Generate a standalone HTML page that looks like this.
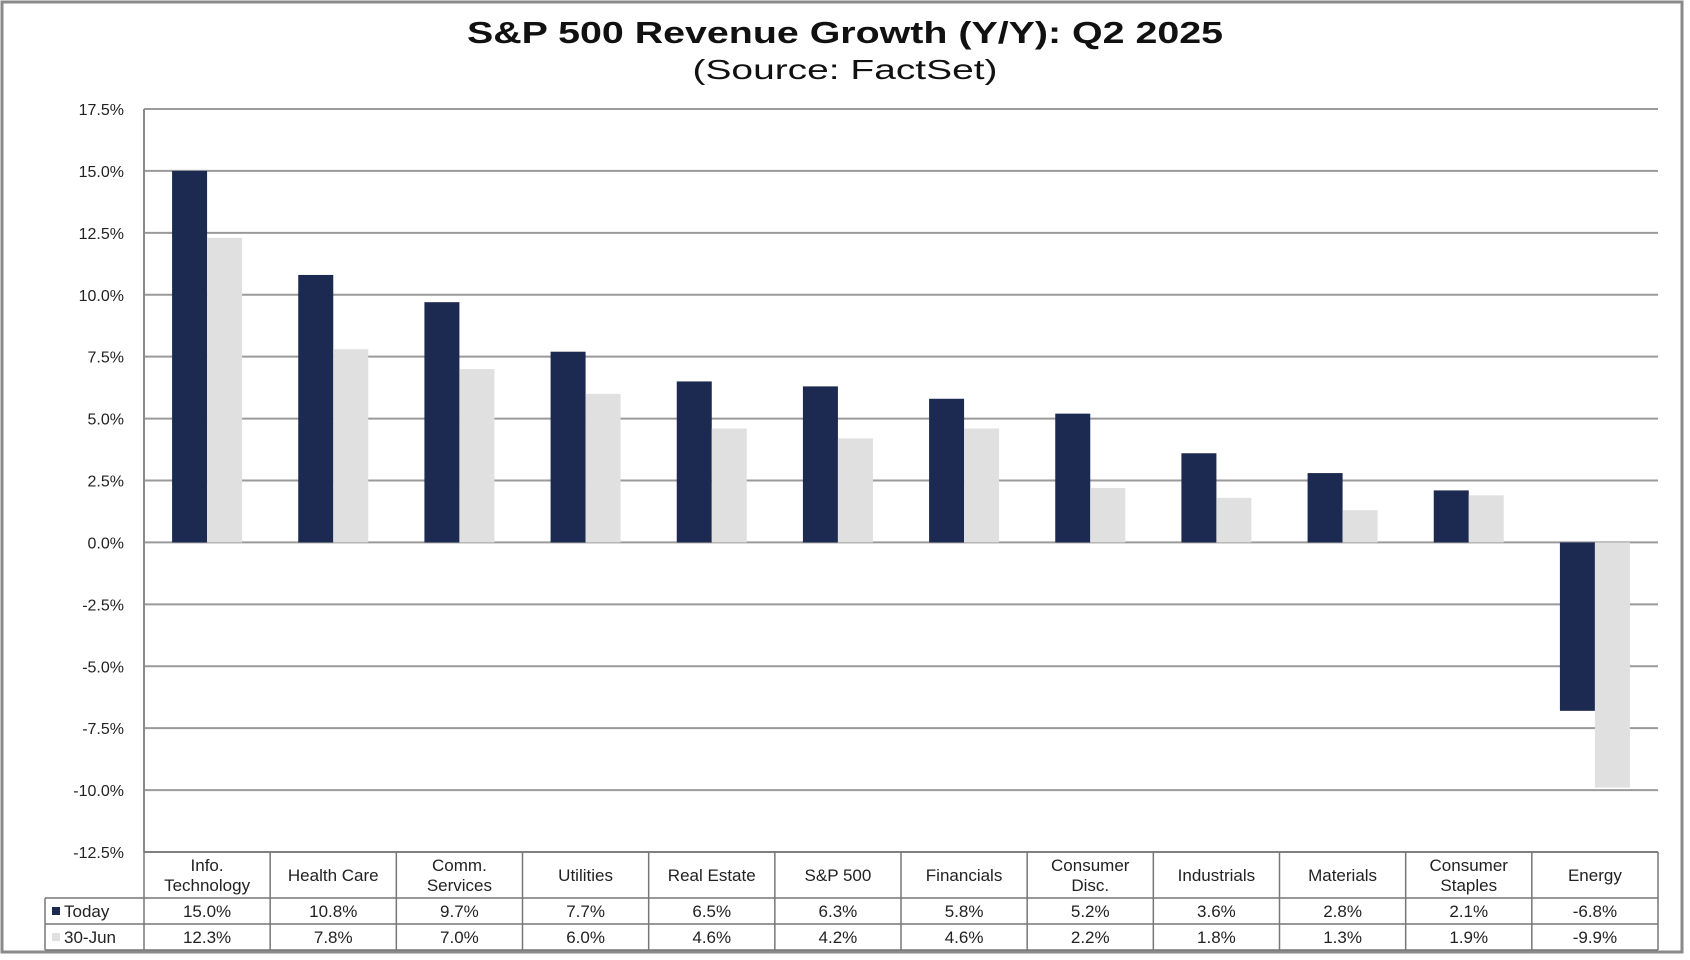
<!DOCTYPE html>
<html><head><meta charset="utf-8"><style>
html,body{margin:0;padding:0;background:#fff;}
svg{display:block;font-family:"Liberation Sans",Arial,sans-serif;}
</style></head><body>
<svg id="chart" width="1690" height="960" viewBox="0 0 1690 960">
<rect x="2" y="2" width="1680" height="950" fill="#fff" stroke="#8a8a8a" stroke-width="3"/>
<text x="845" y="43" text-anchor="middle" font-size="31" font-weight="bold" fill="#111" textLength="756" lengthAdjust="spacingAndGlyphs">S&amp;P 500 Revenue Growth (Y/Y):  Q2 2025</text>
<text x="845" y="79" text-anchor="middle" font-size="28" fill="#111" textLength="305" lengthAdjust="spacingAndGlyphs">(Source: FactSet)</text>
<g id="grid"></g><g id="bars"></g><g id="table"></g>
</svg>
<script>
const categories=[["Info.","Technology"],["Health Care"],["Comm.","Services"],["Utilities"],["Real Estate"],["S&P 500"],["Financials"],["Consumer","Disc."],["Industrials"],["Materials"],["Consumer","Staples"],["Energy"]];
const todayValues=[15.0,10.8,9.7,7.7,6.5,6.3,5.8,5.2,3.6,2.8,2.1,-6.8];
const juneValues=[12.3,7.8,7.0,6.0,4.6,4.2,4.6,2.2,1.8,1.3,1.9,-9.9];
const yTicks=[17.5,15,12.5,10,7.5,5,2.5,0,-2.5,-5,-7.5,-10,-12.5];
const seriesNames=["Today","30-Jun"];

const NS="http://www.w3.org/2000/svg";
const L=144,R=1658,T=109,B=852,yMax=17.5,yMin=-12.5;
const y=v=>T+(yMax-v)/(yMax-yMin)*(B-T);
const cw=(R-L)/categories.length;
const xc=i=>L+cw*(i+0.5);
function mk(tag,attrs,parent){const e=document.createElementNS(NS,tag);for(const k in attrs)e.setAttribute(k,attrs[k]);parent.appendChild(e);return e;}
const grid=document.getElementById('grid'),bars=document.getElementById('bars'),tbl=document.getElementById('table');
yTicks.forEach(t=>{
  const ln=mk('line',{x1:L,x2:R,y1:y(t),y2:y(t),stroke:'#9a9a9a','stroke-width':2},grid);
  
  
  const tx=mk('text',{x:124,y:y(t)+6,'text-anchor':'end','font-size':16,fill:'#222'},grid);
  tx.textContent=t.toFixed(1)+'%';
  
  
});
const ax=mk('line',{x1:L,x2:L,y1:T,y2:B,stroke:'#8a8a8a','stroke-width':2},grid);


const bw=35;
categories.forEach((c,i)=>{
  const a=todayValues[i],b=juneValues[i];
  const r1=mk('rect',{x:xc(i)-bw,y:Math.min(y(a),y(0)),width:bw,height:Math.abs(y(a)-y(0)),fill:'#1c2951'},bars);
  
  
  const r2=mk('rect',{x:xc(i),y:Math.min(y(b),y(0)),width:bw,height:Math.abs(y(b)-y(0)),fill:'#e0e0e0'},bars);
  
  
});
const tL=45,hT=852,hB=898,r1B=924,r2B=950;
const st={stroke:'#777','stroke-width':1.5};
[[L,R,hT,hT],[tL,R,hB,hB],[tL,R,r1B,r1B],[tL,R,r2B,r2B]].forEach(p=>{const e=mk('line',Object.assign({x1:p[0],x2:p[1],y1:p[2],y2:p[3]},st),tbl);});
const v0=mk('line',Object.assign({x1:tL,x2:tL,y1:hB,y2:r2B},st),tbl);


for(let i=0;i<=categories.length;i++){
  const e=mk('line',Object.assign({x1:L+cw*i,x2:L+cw*i,y1:hT,y2:r2B},st),tbl);
  
  
}
categories.forEach((c,i)=>{
  const t=mk('text',{x:xc(i),'text-anchor':'middle','font-size':17,fill:'#222'},tbl);
  
  
  if(c.length===1){t.setAttribute('y',881);t.textContent=c[0];}
  else{c.forEach((s,k)=>{const sp=mk('tspan',{x:xc(i),y:871+k*20},t);sp.textContent=s;});}
  [[todayValues[i],917],[juneValues[i],943]].forEach(([v,yy])=>{
    const d=mk('text',{x:xc(i),y:yy,'text-anchor':'middle','font-size':17,fill:'#222'},tbl);
    d.textContent=v.toFixed(1)+'%';
    
    
  });
});
[[seriesNames[0],'#1c2951',hB],[seriesNames[1],'#e0e0e0',r1B]].forEach(([n,col,top])=>{
  const sw=mk('rect',{x:52,y:top+9,width:8,height:8,fill:col},tbl);
  
  
  const t=mk('text',{x:64,y:top+19,'font-size':17,fill:'#222'},tbl);
  t.textContent=n;
  
  
});
</script>
</body></html>
